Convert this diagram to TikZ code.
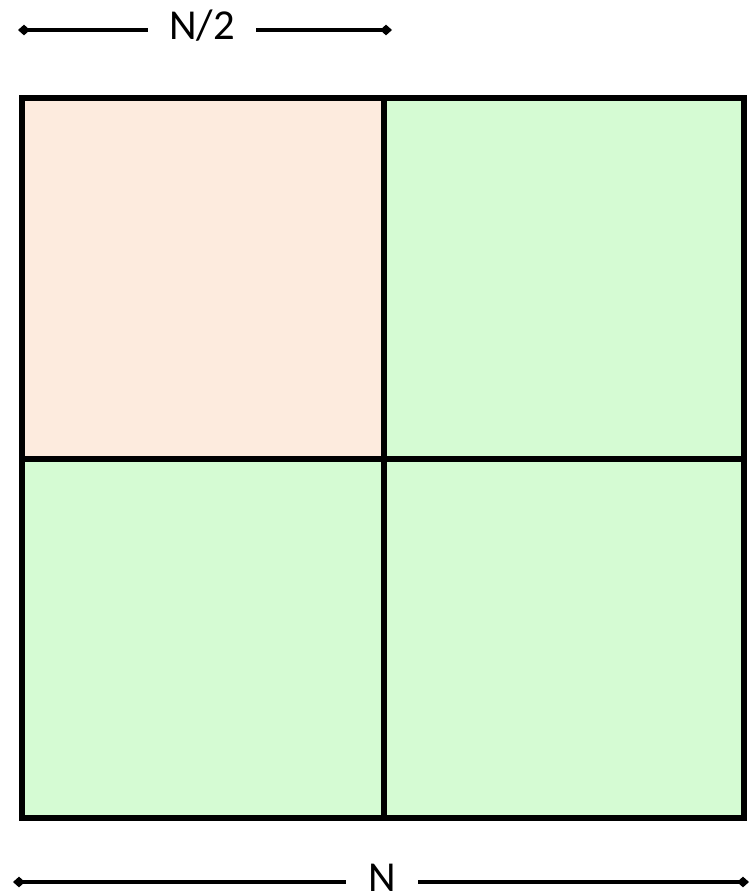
\documentclass[tikz,border=0pt]{standalone}
\usepackage{fontspec}
\setmainfont{Carlito}
\usetikzlibrary{arrows.meta, positioning}
\definecolor{QuadPeach}{HTML}{FDEBDE}
\definecolor{QuadGreen}{HTML}{D5FBD3}

\begin{document}
\begin{tikzpicture}[x=0.75pt, y=-0.75pt, >={Diamond[length=9pt, width=8pt]}]
                \useasboundingbox (0,0) rectangle (751,896);

                % Quadrants
                \fill[QuadPeach] (22,98) rectangle (384,459);
                \fill[QuadGreen] (384,98) rectangle (744,459);
                \fill[QuadGreen] (22,459) rectangle (384,818);
                \fill[QuadGreen] (384,459) rectangle (744,818);

                % Outer square and the two cuts
                \draw[line width=3.8pt] (22,98) rectangle (744,818);
                \draw[line width=3.8pt] (384,98) -- (384,818);
                \draw[line width=3.8pt] (22,459) -- (744,459);

                % Half side length
                \node[anchor=base, font=\fontsize{32}{36}\selectfont, inner xsep=16pt, inner ysep=1pt, outer sep=0pt] (half) at (202,39) {N/2};
                \coordinate (halfL) at (18,30);
                \coordinate (halfR) at (392,30);
                \draw[line width=2.7pt, <-] (halfL) -- (halfL -| half.west);
                \draw[line width=2.7pt, ->] (halfR -| half.east) -- (halfR);

                % Full side length
                \node[anchor=base, font=\fontsize{32}{36}\selectfont, inner xsep=17pt, inner ysep=1pt, outer sep=0pt] (full) at (382,891) {N};
                \coordinate (fullL) at (13,882);
                \coordinate (fullR) at (749,882);
                \draw[line width=2.7pt, <-] (fullL) -- (fullL -| full.west);
                \draw[line width=2.7pt, ->] (fullR -| full.east) -- (fullR);
            \end{tikzpicture}
\end{document}
